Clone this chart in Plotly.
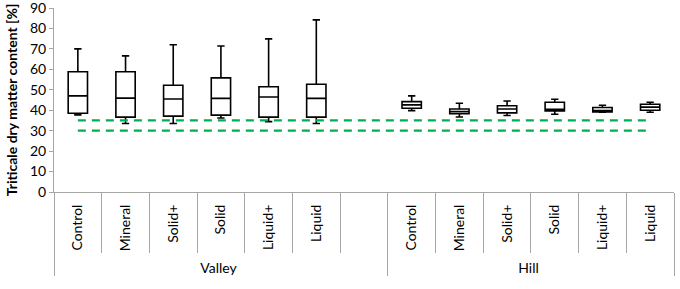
import plotly.graph_objects as go

# ---- data ----
groups = ["Valley"] * 6 + ["Hill"] * 6
treatments = ["Control", "Mineral", "Solid+", "Solid", "Liquid+", "Liquid"] * 2
upper = [70, 66.6, 72.0, 71.4, 74.9, 84.2, 47.0, 43.4, 44.5, 45.4, 42.4, 43.9]
q3 = [58.8, 58.8, 52.2, 55.8, 51.5, 52.7, 44.2, 40.6, 42.2, 43.9, 41.3, 42.9]
median = [47.0, 45.9, 45.5, 45.8, 46.5, 45.8, 42.6, 39.3, 40.6, 40.5, 39.8, 41.5]
q1 = [38.5, 36.6, 37.1, 37.6, 36.6, 36.6, 41.0, 38.3, 38.7, 39.7, 39.2, 40.0]
lower = [37.7, 33.5, 33.5, 36.2, 34.4, 33.5, 39.8, 36.7, 37.4, 38.0, 39.0, 39.0]

# all slots on the axis (including the empty spacer in Valley)
axis_groups = ["Valley"] * 7 + ["Hill"] * 6
axis_cats = ["Control", "Mineral", "Solid+", "Solid", "Liquid+", "Liquid", " ",
             "Control", "Mineral", "Solid+", "Solid", "Liquid+", "Liquid"]
limit_high = [35] * 13
limit_low = [30] * 13
y_min, y_max, y_step = 0, 90, 10

GREEN = "#00B050"
AXIS = "#A6A6A6"
FONT = "Lato"

slot_keys = [f"{g}|{c}" for g, c in zip(axis_groups, axis_cats)]
box_keys = [f"{g}|{c}" for g, c in zip(groups, treatments)]
n_slots = len(slot_keys)

fig = go.Figure()
for lim in (limit_high, limit_low):
    fig.add_trace(go.Scatter(
        x=[axis_groups, axis_cats], y=lim, mode="lines", xaxis="x2",
        line=dict(color=GREEN, width=2.3, dash="8px,6px"),
        hoverinfo="skip", showlegend=False))

fig.add_trace(go.Box(
    x=box_keys,
    q1=q1, median=median, q3=q3, lowerfence=lower, upperfence=upper,
    fillcolor="white", line=dict(color="black", width=1.6),
    width=0.405, whiskerwidth=0.38, boxpoints=False, showlegend=False))

fig.update_layout(
    width=680, height=289,
    margin=dict(l=54, r=6, t=8, b=97, autoexpand=False),
    paper_bgcolor="white", plot_bgcolor="white",
    font=dict(family=FONT, size=13, color="black"),
    showlegend=False,
    xaxis=dict(type="category", categoryorder="array", categoryarray=slot_keys,
               range=[-0.5, n_slots - 0.5], visible=False, automargin=False),
    xaxis2=dict(
        type="multicategory", overlaying="x", side="bottom",
        range=[-0.5, n_slots - 0.5], automargin=False,
        showgrid=False, zeroline=False,
        showline=True, linecolor=AXIS, linewidth=1,
        ticks="outside", ticklen=60, tickcolor=AXIS, tickson="boundaries",
        tickangle=-90, tickfont=dict(size=14), ticklabelstandoff=6,
        showdividers=True, dividercolor=AXIS, dividerwidth=1,
    ),
    yaxis=dict(
        range=[y_min, y_max], tickmode="linear", tick0=y_min, dtick=y_step,
        showgrid=False, zeroline=False,
        showline=True, linecolor=AXIS, linewidth=1, automargin=False,
        ticks="outside", ticklen=4, tickcolor=AXIS,
        tickfont=dict(size=14), ticklabeloverflow="allow",
        title=dict(text="<b>Triticale dry matter content [%]</b>", font=dict(size=14), standoff=9),
    ),
)

fig.write_html("out.html", config={"displayModeBar": False},
               post_script="document.body.style.margin='0';")
